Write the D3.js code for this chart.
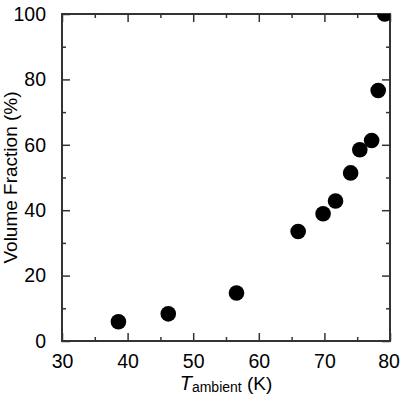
<!DOCTYPE html>
<html>
<head>
<meta charset="utf-8">
<script src="https://cdn.jsdelivr.net/npm/d3@7"></script>
<style>
  body { margin: 0; background: #fff; }
  text { font-family: "Liberation Sans", Arial, sans-serif; fill: #000; }
</style>
</head>
<body>
<svg id="chart" width="400" height="400"></svg>
<script>
// data
var tAmbient = [38.6, 46.2, 56.6, 66.0, 69.8, 71.7, 74.0, 75.4, 77.2, 78.2, 79.2];
var volFraction = [5.9, 8.3, 14.7, 33.5, 38.9, 42.8, 51.4, 58.5, 61.3, 76.6, 100];
var xTicks = [30, 40, 50, 60, 70, 80];
var yTicks = [0, 20, 40, 60, 80, 100];

var margins = {left: 62, right: 10, top: 14, bottom: 59};
var width = 400, height = 400;
var w = width - margins.left - margins.right,
    h = height - margins.top - margins.bottom;
var axisColor = "#333";

var svg = d3.select("#chart");

var xScale = d3.scaleLinear().domain([30, 80]).range([0, w]);
var yScale = d3.scaleLinear().domain([0, 100]).range([h, 0]);

var g = svg.append("g")
    .attr("transform", "translate(" + margins.left + "," + margins.top + ")");

svg.append("defs").append("clipPath").attr("id", "plotClip")
    .append("rect").attr("width", w).attr("height", h);

// minor ticks every 5 (x) and 10 (y)
var xMinor = d3.range(35, 80, 10);
var yMinor = d3.range(10, 100, 20);

function styleAxis(sel) {
    sel.select(".domain").remove();
    sel.selectAll(".tick line").attr("stroke", axisColor).attr("stroke-width", 1.5);
    sel.selectAll(".tick text").style("font-size", "19.5px");
}

// bottom axis with labels
g.append("g")
    .attr("transform", "translate(0," + h + ")")
    .call(d3.axisBottom(xScale).tickValues(xTicks).tickSizeInner(-8).tickSizeOuter(0).tickPadding(17).tickFormat(d3.format("d")))
    .call(styleAxis)
    .call(s => s.selectAll(".tick text").attr("dy", "0.5em"))
    // last label sits right at the page edge, pull it in a touch
    .call(s => s.selectAll(".tick text").filter(d => d === 80).attr("dx", -1.5));
g.append("g")
    .attr("transform", "translate(0," + h + ")")
    .call(d3.axisBottom(xScale).tickValues(xMinor).tickSize(-4).tickFormat(""))
    .call(styleAxis);

// top axis, ticks only
g.append("g")
    .call(d3.axisTop(xScale).tickValues(xTicks).tickSize(-8).tickFormat(""))
    .call(styleAxis);
g.append("g")
    .call(d3.axisTop(xScale).tickValues(xMinor).tickSize(-4).tickFormat(""))
    .call(styleAxis);

// left axis with labels
g.append("g")
    .call(d3.axisLeft(yScale).tickValues(yTicks).tickSizeInner(-8).tickSizeOuter(0).tickPadding(16).tickFormat(d3.format("d")))
    .call(styleAxis);
g.append("g")
    .call(d3.axisLeft(yScale).tickValues(yMinor).tickSize(-4).tickFormat(""))
    .call(styleAxis);

// right axis, ticks only
g.append("g")
    .attr("transform", "translate(" + w + ",0)")
    .call(d3.axisRight(yScale).tickValues(yTicks).tickSize(-8).tickFormat(""))
    .call(styleAxis);
g.append("g")
    .attr("transform", "translate(" + w + ",0)")
    .call(d3.axisRight(yScale).tickValues(yMinor).tickSize(-4).tickFormat(""))
    .call(styleAxis);

// frame
g.append("rect")
    .attr("width", w)
    .attr("height", h)
    .attr("fill", "none")
    .attr("stroke", axisColor)
    .attr("stroke-width", 2);

// points
var pts = tAmbient.map((t, i) => ({t: t, v: volFraction[i]}));
g.append("g")
    .attr("clip-path", "url(#plotClip)")
    .selectAll("circle")
    .data(pts)
    .enter().append("circle")
    .attr("cx", d => xScale(d.t))
    .attr("cy", d => yScale(d.v))
    .attr("r", 7.8)
    .attr("fill", "#000");

// x label
var xl = svg.append("text")
    .attr("x", margins.left + w / 2)
    .attr("y", 390)
    .attr("text-anchor", "middle")
    .style("font-size", "19px");
xl.append("tspan").style("font-style", "italic").style("font-size", "20px").text("T");
xl.append("tspan").attr("dy", 2).style("font-size", "14px").text("ambient");
xl.append("tspan").attr("dy", -2).text(" (K)");

// y label
svg.append("text")
    .attr("transform", "translate(17," + (margins.top + h / 2) + ") rotate(-90)")
    .attr("text-anchor", "middle")
    .style("font-size", "19px")
    .text("Volume Fraction (%)");
</script>
</body>
</html>
